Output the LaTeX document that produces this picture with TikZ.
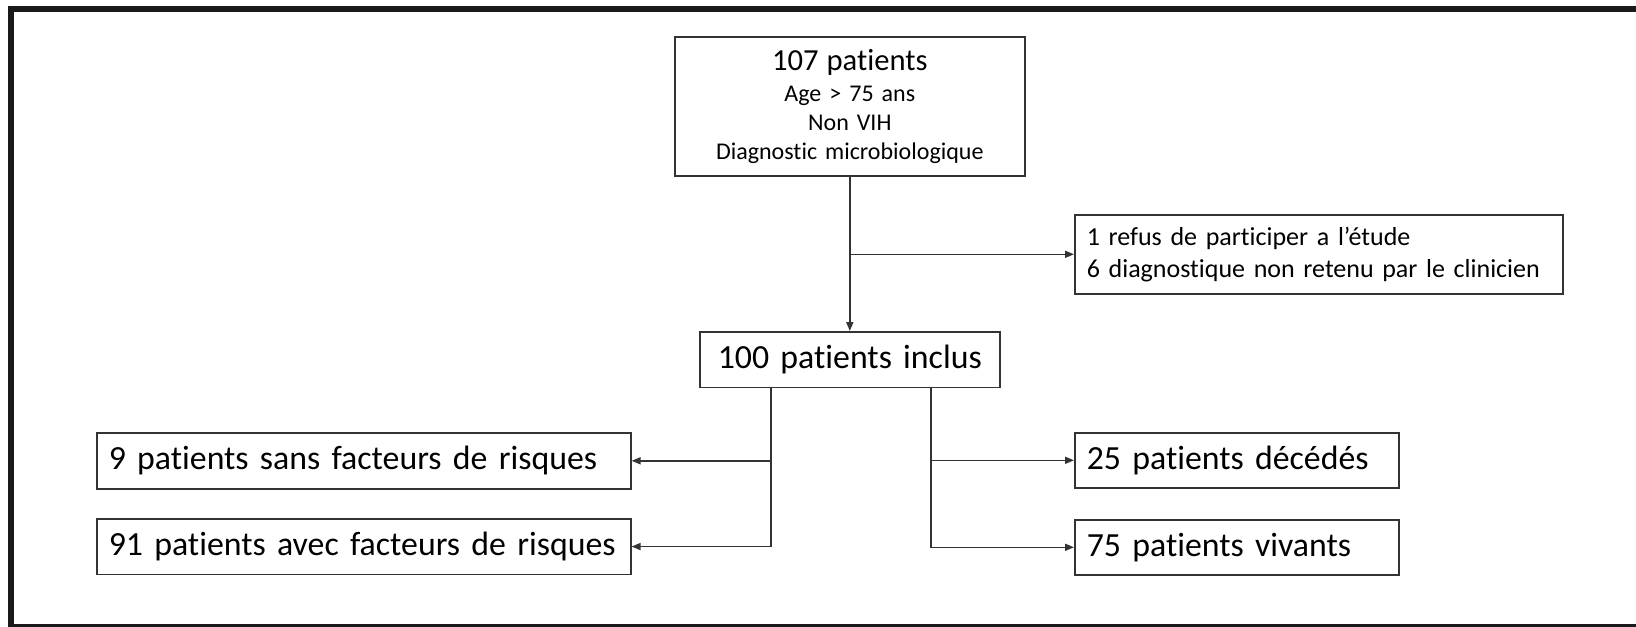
\documentclass[tikz,border=0pt]{standalone}
\usepackage{fontspec}
\setmainfont{Carlito}[Ligatures={NoCommon}]
\usetikzlibrary{arrows.meta}
\definecolor{framec}{HTML}{1A1A1A}
\definecolor{linec}{HTML}{333333}
\begin{document}
\begin{tikzpicture}[x=0.5pt,y=-0.5pt,
  box/.style={draw=linec, line width=0.8pt, inner xsep=6pt, inner ysep=0pt, anchor=north west, text=black},
  conn/.style={draw=linec, line width=0.8pt},
  arr/.style={conn, -{Triangle[length=4.5pt,width=3.5pt]}},
  big/.style={font=\fontsize{16.9pt}{20pt}\selectfont},
  mid/.style={font=\fontsize{13pt}{16pt}\selectfont},
  small/.style={font=\fontsize{12pt}{14.5pt}\selectfont}]
\useasboundingbox (0,0) rectangle (1636,626);
\begin{scope}
  \clip (0,0) rectangle (1636,626);
  \draw[line width=3pt, framec] (11,9) rectangle (1660,627);
\end{scope}

\node[box, small, align=center, text width=163pt, minimum height=69.5pt] (top) at (674,36)
  {{\fontsize{15.3pt}{18pt}\selectfont 107 patients}\\[1pt] Age > 75 ans\\ Non VIH\\ Diagnostic microbiologique};
\node[box, mid, align=left, text width=232pt, minimum height=39.5pt] (excl) at (1074,214)
  {\mbox{1 refus de participer a l’étude}\\ \mbox{6 diagnostique non retenu par le clinicien}};
\node[box, big, align=center, text width=138pt, minimum height=27.75pt] (incl) at (699,331)
  {\mbox{100 patients inclus}};
\node[box, big, align=left, text width=255pt, minimum height=28pt] (sans) at (96,432)
  {\mbox{9 patients sans facteurs de risques}};
\node[box, big, align=left, text width=255pt, minimum height=27.75pt] (avec) at (96,518)
  {\mbox{91 patients avec facteurs de risques}};
\node[box, big, align=left, text width=150pt, minimum height=27.5pt] (dec) at (1074,432)
  {\mbox{25 patients décédés}};
\node[box, big, align=left, text width=150pt, minimum height=27.5pt] (viv) at (1074,519)
  {\mbox{75 patients vivants}};

\coordinate (lb) at (771,386.5);
\coordinate (rb) at (931,386.5);

\draw[arr] (top.south) -- (incl.north);
\draw[arr] (top.south |- excl.west) -- (excl.west);
\draw[arr] (lb) |- (avec.east);
\draw[arr] (lb |- sans.east) -- (sans.east);
\draw[arr] (rb) |- (viv.west);
\draw[arr] (rb |- dec.west) -- (dec.west);
\end{tikzpicture}
\end{document}
